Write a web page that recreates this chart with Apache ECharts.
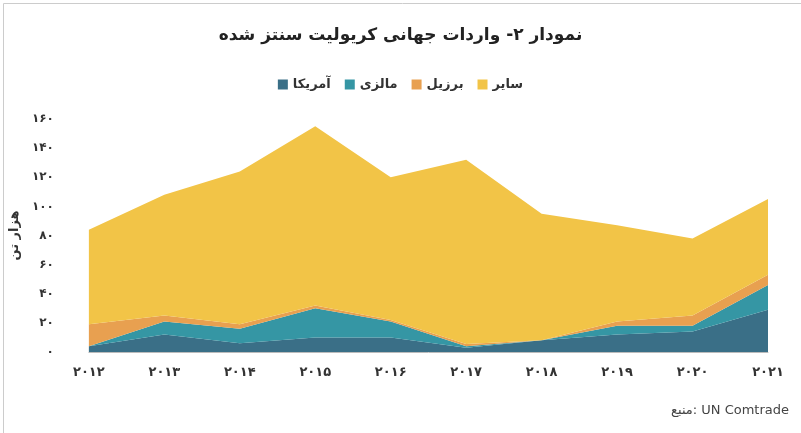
<!DOCTYPE html>
<html><head><meta charset="utf-8">
<script src="https://cdn.jsdelivr.net/npm/echarts@6/dist/echarts.min.js"></script>
<style>body{margin:0;background:#fff}#c{width:801px;height:433px}</style></head>
<body><div id="c"></div>
<script>
const years = ['2012','2013','2014','2015','2016','2017','2018','2019','2020','2021'];
const usa = [4,12,6,10,10,3,8,12,14,29];
const malaysia = [0,9,10,20,11,1,0,6,4,17];
const brazil = [15,4,3,2,1,1.5,0,3,7,7];
const other = [65,83,105,123,98,126.5,87,66,53,52];
const names = ['آمریکا','مالزی','برزیل','سایر'];
const colors = ['#3a6f87','#3596a4','#e8a050','#f2c447'];
const fa = s => String(s).replace(/[0-9]/g, d => '۰۱۲۳۴۵۶۷۸۹'[d]);
const chart = echarts.init(document.getElementById('c'));
const font = '"DejaVu Sans", "Noto Sans", sans-serif';
chart.setOption({
  animation:false,
  title:{text:'نمودار ۲- واردات جهانی کریولیت سنتز شده',left:'center',top:22,textStyle:{fontSize:17,fontWeight:'bold',color:'#222',fontFamily:font}},
  legend:{top:73,left:'center',itemWidth:10,itemHeight:10,itemGap:14,icon:'rect',data:names,textStyle:{fontSize:13,fontWeight:'bold',color:'#333',fontFamily:font}},
  grid:{left:80,right:33,top:119,bottom:81},
  xAxis:{type:'category',boundaryGap:false,data:years,axisTick:{show:false},axisLine:{lineStyle:{color:'#bbb'}},
    axisLabel:{formatter:fa,fontSize:13,fontWeight:'bold',color:'#333',margin:14,fontFamily:font}},
  yAxis:{type:'value',min:0,max:160,interval:20,splitLine:{show:false},
    name:'هزار تن',nameLocation:'middle',nameGap:55,nameRotate:90,nameTextStyle:{fontSize:13,fontWeight:'bold',color:'#333',fontFamily:font},
    axisLabel:{formatter:fa,fontSize:12,fontWeight:'bold',color:'#333',margin:35,fontFamily:font}},
  graphic:[{type:'text',right:12,bottom:16,style:{text:'منبع: UN Comtrade',fontSize:13,fill:'#444',fontFamily:font}},
    {type:'rect',left:1,top:1,shape:{width:798,height:430},style:{fill:'none',stroke:'#ccc'}}],
  series:[usa,malaysia,brazil,other].map((d,i)=>({name:names[i],type:'line',stack:'t',data:d,symbol:'none',
    lineStyle:{width:0},areaStyle:{color:colors[i],opacity:1},itemStyle:{color:colors[i]}}))
});
</script></body></html>
